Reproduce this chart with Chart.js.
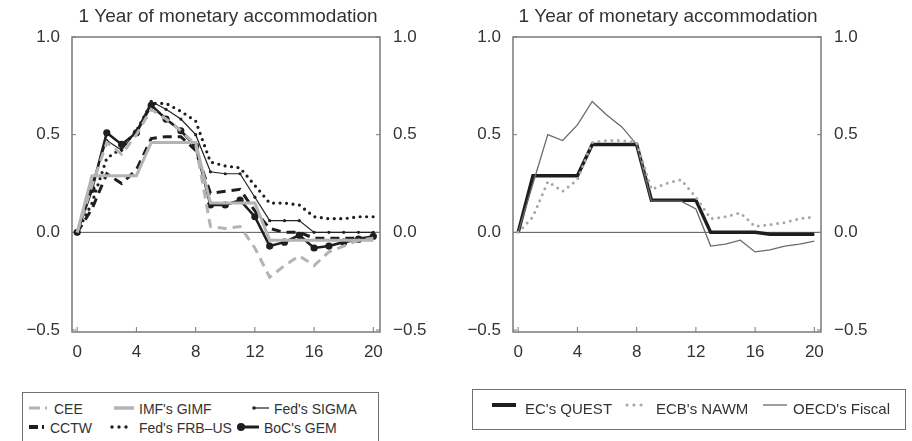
<!DOCTYPE html>
<html>
<head>
<meta charset="utf-8">
<script src="https://cdn.jsdelivr.net/npm/chart.js@4.4.0/dist/chart.umd.min.js"></script>
<style>
  body { margin: 0; background: #fff; width: 912px; height: 441px; overflow: hidden; position: relative;
         font-family: "Liberation Sans", Arial, sans-serif; color: #333; }
  canvas { position: absolute; top: 0; }
  #leftChart { left: 0; }
  #rightChart { left: 440px; }
  .legend { position: absolute; border: 1.5px solid #707070; box-sizing: border-box; font-size: 15px; }
  .legend.small { font-size: 14px; }
  .legend .item { position: absolute; white-space: nowrap; line-height: 18px; }
  .legend svg { position: absolute; }
</style>
</head>
<body>
<canvas id="leftChart" width="456" height="380"></canvas>
<canvas id="rightChart" width="456" height="380"></canvas>

<div class="legend small" style="left:22px; top:392px; width:357px; height:60px;">
  <svg style="left:5px; top:10px" width="22" height="10"><line x1="1" y1="5" x2="21" y2="5" stroke="#b4b4b4" stroke-width="3" stroke-dasharray="11,5,2,10"/></svg>
  <div class="item" style="left:31px; top:7px">CEE</div>
  <svg style="left:89px; top:10px" width="24" height="10"><line x1="2" y1="5" x2="22" y2="5" stroke="#b4b4b4" stroke-width="3.5"/></svg>
  <div class="item" style="left:116px; top:7px">IMF's GIMF</div>
  <svg style="left:228px; top:10px" width="20" height="10"><line x1="2" y1="5" x2="18" y2="5" stroke="#222" stroke-width="1.2"/><circle cx="3" cy="5" r="1.8" fill="#222"/></svg>
  <div class="item" style="left:251px; top:7px">Fed's SIGMA</div>
  <svg style="left:5px; top:29px" width="22" height="10"><line x1="1" y1="5" x2="21" y2="5" stroke="#1e1e1e" stroke-width="4" stroke-dasharray="9,4,2,10"/></svg>
  <div class="item" style="left:27px; top:26px">CCTW</div>
  <svg style="left:86px; top:29px" width="26" height="10"><line x1="3" y1="5" x2="23" y2="5" stroke="#1e1e1e" stroke-width="3.4" stroke-linecap="round" stroke-dasharray="0,7"/></svg>
  <div class="item" style="left:116px; top:26px">Fed's FRB–US</div>
  <svg style="left:213px; top:29px" width="24" height="10"><line x1="4" y1="5" x2="23" y2="5" stroke="#1e1e1e" stroke-width="3"/><circle cx="5" cy="5" r="4" fill="#1e1e1e"/></svg>
  <div class="item" style="left:241px; top:26px">BoC's GEM</div>
</div>

<div class="legend" style="left:472px; top:389px; width:434px; height:41px;">
  <svg style="left:18px; top:10px" width="26" height="10"><line x1="1" y1="5" x2="25" y2="5" stroke="#1e1e1e" stroke-width="4"/></svg>
  <div class="item" style="left:52px; top:10px">EC's QUEST</div>
  <svg style="left:151px; top:10px" width="26" height="10"><line x1="3" y1="5" x2="24" y2="5" stroke="#a8a8a8" stroke-width="3.2" stroke-linecap="round" stroke-dasharray="0,7"/></svg>
  <div class="item" style="left:183px; top:10px">ECB's NAWM</div>
  <svg style="left:289px; top:10px" width="26" height="10"><line x1="1" y1="5" x2="25" y2="5" stroke="#6a6a6a" stroke-width="1.3"/></svg>
  <div class="item" style="left:320px; top:10px">OECD's Fiscal</div>
</div>

<script>
// Quarters after the shock
const quarters = [0, 1, 2, 3, 4, 5, 6, 7, 8, 9, 10, 11, 12, 13, 14, 15, 16, 17, 18, 19, 20];
const xTicks = [0, 4, 8, 12, 16, 20];
const yTicks = [-0.5, 0, 0.5, 1.0];

// Left panel
const cee    = [0, 0.24, 0.46, 0.40, 0.50, 0.63, 0.58, 0.52, 0.45, 0.03, 0.02, 0.03, -0.08, -0.23, -0.17, -0.12, -0.17, -0.10, -0.07, -0.04, -0.03];
const gimf   = [0, 0.29, 0.29, 0.29, 0.29, 0.46, 0.46, 0.46, 0.46, 0.15, 0.15, 0.15, 0.15, -0.04, -0.04, -0.04, -0.04, -0.04, -0.04, -0.04, -0.04];
const sigma  = [0, 0.25, 0.47, 0.42, 0.52, 0.67, 0.63, 0.58, 0.50, 0.31, 0.30, 0.30, 0.18, 0.06, 0.06, 0.06, 0.00, 0.00, 0.00, 0.00, 0.00];
const cctw   = [0, 0.12, 0.30, 0.25, 0.32, 0.48, 0.49, 0.49, 0.42, 0.20, 0.21, 0.22, 0.11, 0.02, 0.00, 0.00, -0.03, -0.03, -0.03, -0.03, -0.03];
const frbus  = [0, 0.15, 0.38, 0.43, 0.52, 0.66, 0.66, 0.62, 0.57, 0.36, 0.34, 0.33, 0.24, 0.15, 0.15, 0.14, 0.08, 0.07, 0.07, 0.08, 0.08];
const gem    = [0, 0.22, 0.51, 0.45, 0.51, 0.65, 0.58, 0.52, 0.44, 0.14, 0.14, 0.165, 0.08, -0.07, -0.05, -0.015, -0.08, -0.07, -0.05, -0.035, -0.02];

// Right panel
const quest  = [0, 0.29, 0.29, 0.29, 0.29, 0.45, 0.45, 0.45, 0.45, 0.165, 0.165, 0.165, 0.165, 0.00, 0.00, 0.00, 0.00, -0.01, -0.01, -0.01, -0.01];
const nawm   = [0, 0.08, 0.26, 0.21, 0.27, 0.46, 0.47, 0.47, 0.46, 0.22, 0.25, 0.27, 0.18, 0.07, 0.08, 0.10, 0.03, 0.04, 0.05, 0.07, 0.08];
const oecd   = [0, 0.25, 0.50, 0.47, 0.55, 0.67, 0.60, 0.54, 0.45, 0.16, 0.16, 0.16, 0.12, -0.07, -0.06, -0.04, -0.10, -0.09, -0.07, -0.06, -0.045];

const BLACK = '#1e1e1e';
const LIGHT = '#b4b4b4';

function pts(vals) {
    return quarters.map((q, i) => ({ x: q, y: vals[i] }));
}

function fmt(v) {
    return v < 0 ? '\u2212' + Math.abs(v).toFixed(1) : v.toFixed(1);
}

// frame, zero line and inward ticks
const framePlugin = {
    id: 'frame',
    beforeDatasetsDraw(chart) {
        const { ctx, chartArea: a, scales } = chart;
        ctx.save();
        ctx.strokeStyle = '#555';
        ctx.lineWidth = 1;
        const y0 = scales.y.getPixelForValue(0);
        ctx.beginPath();
        ctx.moveTo(a.left, y0);
        ctx.lineTo(a.right, y0);
        ctx.stroke();

        ctx.strokeStyle = '#7a7a7a';
        ctx.lineWidth = 1.5;
        ctx.strokeRect(a.left, a.top, a.right - a.left, a.bottom - a.top);
        ctx.lineWidth = 1;
        ctx.beginPath();
        xTicks.forEach(v => {
            const px = scales.x.getPixelForValue(v);
            ctx.moveTo(px, a.bottom);
            ctx.lineTo(px, a.bottom - 5);
        });
        yTicks.forEach(v => {
            const py = scales.y.getPixelForValue(v);
            ctx.moveTo(a.left, py);
            ctx.lineTo(a.left + 4, py);
            ctx.moveTo(a.right, py);
            ctx.lineTo(a.right - 4, py);
        });
        ctx.stroke();
        ctx.restore();
    }
};

function makeOptions(leftW, rightW) {
    const tickFont = { family: '"Liberation Sans", Arial, sans-serif', size: 17 };
    return {
        responsive: false,
        animation: false,
        layout: { padding: 0 },
        plugins: {
            legend: { display: false },
            tooltip: { enabled: false },
            title: {
                display: true,
                text: '1 Year of monetary accommodation',
                color: '#333',
                font: { family: '"Liberation Sans", Arial, sans-serif', size: 19, weight: 'normal', lineHeight: 1.2 },
                padding: { top: 5, bottom: 9.2 }
            }
        },
        scales: {
            x: {
                type: 'linear',
                min: -0.35,
                max: 20.45,
                grid: { display: false, drawTicks: false },
                border: { display: false },
                afterBuildTicks: s => { s.ticks = xTicks.map(v => ({ value: v })); },
                afterFit: s => { s.height = 48; },
                ticks: { color: '#333', font: tickFont, padding: 10, maxRotation: 0, autoSkip: false }
            },
            y: {
                position: 'left',
                min: -0.51,
                max: 1.0,
                grid: { display: false, drawTicks: false },
                border: { display: false },
                afterBuildTicks: s => { s.ticks = yTicks.map(v => ({ value: v })); },
                afterFit: s => { s.width = leftW; },
                ticks: { color: '#333', font: tickFont, padding: 12, callback: fmt }
            },
            y2: {
                position: 'right',
                min: -0.51,
                max: 1.0,
                grid: { display: false, drawTicks: false },
                border: { display: false },
                afterBuildTicks: s => { s.ticks = yTicks.map(v => ({ value: v })); },
                afterFit: s => { s.width = rightW; },
                ticks: { color: '#333', font: tickFont, padding: 13, callback: fmt }
            }
        },
        elements: { line: { tension: 0 } }
    };
}

function ds(label, vals, style) {
    return Object.assign({
        label: label,
        data: pts(vals),
        fill: false,
        pointRadius: 0,
        borderJoinStyle: 'miter'
    }, style);
}

new Chart(document.getElementById('leftChart').getContext('2d'), {
    type: 'line',
    data: {
        datasets: [
            ds('CEE', cee, { borderColor: LIGHT, borderWidth: 3, borderDash: [9, 6] }),
            ds("IMF's GIMF", gimf, { borderColor: LIGHT, borderWidth: 3 }),
            ds('CCTW', cctw, { borderColor: BLACK, borderWidth: 3, borderDash: [9, 6] }),
            ds("Fed's FRB–US", frbus, { borderColor: BLACK, borderWidth: 3.2, borderDash: [0, 6.5], borderCapStyle: 'round' }),
            ds("Fed's SIGMA", sigma, { borderColor: '#222', borderWidth: 1.2, pointRadius: 1.6, pointBackgroundColor: '#222', pointBorderWidth: 0 }),
            ds("BoC's GEM", gem, { borderColor: BLACK, borderWidth: 2.6, pointRadius: 3.6, pointBackgroundColor: BLACK, pointBorderWidth: 0 })
        ]
    },
    options: makeOptions(72, 76),
    plugins: [framePlugin]
});

new Chart(document.getElementById('rightChart').getContext('2d'), {
    type: 'line',
    data: {
        datasets: [
            ds("ECB's NAWM", nawm, { borderColor: '#a8a8a8', borderWidth: 3, borderDash: [0, 6.5], borderCapStyle: 'round' }),
            ds("OECD's Fiscal", oecd, { borderColor: '#6a6a6a', borderWidth: 1.3 }),
            ds("EC's QUEST", quest, { borderColor: BLACK, borderWidth: 3.5 })
        ]
    },
    options: makeOptions(73, 75),
    plugins: [framePlugin]
});
</script>
</body>
</html>
